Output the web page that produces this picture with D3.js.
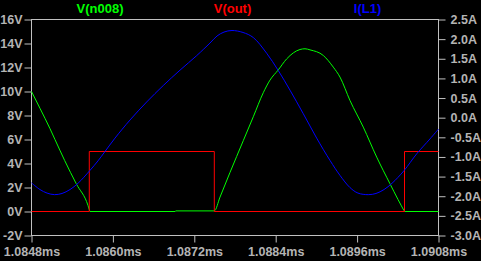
<!DOCTYPE html>
<html>
<head>
<meta charset="utf-8">
<script src="https://cdn.jsdelivr.net/npm/d3@7"></script>
<style>
  html, body { margin: 0; padding: 0; background: #000; }
  svg { display: block; }
</style>
</head>
<body>
<svg id="chart" width="481" height="261"></svg>
<script>
// ---------- data ----------
const seriesNames = ["V(n008)", "V(out)", "I(L1)"];

// V(n008) : time (ms), volts
const greenTime = [1.084800, 1.084925, 1.085073, 1.085146, 1.085289, 1.085460, 1.085633, 1.085655, 1.085662,
  1.086916, 1.086930, 1.087495, 1.087579, 1.087726, 1.087922, 1.088070, 1.088217, 1.088316, 1.088438,
  1.088562, 1.088758, 1.088832, 1.088906, 1.089102, 1.089249, 1.089348, 1.089495, 1.089691, 1.089889,
  1.090085, 1.090203, 1.090291, 1.090299, 1.090800];
const greenVolts = [10.0, 8.6, 6.9, 6.0, 4.25, 2.31, 0.5, 0.1, 0.0,
  0.0, 0.05, 0.05, 1.2, 3.25, 5.9, 7.9, 9.9, 10.95, 11.8,
  12.72, 13.5, 13.56, 13.47, 13.0, 12.03, 11.2, 9.25, 7.03, 4.53,
  2.31, 1.0, 0.08, 0.0, 0.0];

// V(out) : step waveform, time (ms), volts
const redTime = [1.084800, 1.085652, 1.087495, 1.090299, 1.090800];
const redVolts = [0, 5, 0, 5, 5];

// I(L1) : time (ms), amps
const blueTime = [1.084800, 1.084925, 1.085029, 1.085139, 1.085250, 1.085368, 1.085486, 1.085658,
  1.085780, 1.085884, 1.086031, 1.086252, 1.086498, 1.086743, 1.086989, 1.087235, 1.087431, 1.087535,
  1.087638, 1.087756, 1.087918, 1.088070, 1.088267, 1.088438, 1.088611, 1.088807, 1.089004, 1.089201,
  1.089348, 1.089495, 1.089613, 1.089765, 1.089879, 1.089997, 1.090115, 1.090291, 1.090479, 1.090675,
  1.090800];
const blueAmps = [-1.66, -1.83, -1.92, -1.96, -1.93, -1.83, -1.67, -1.35,
  -1.1, -0.86, -0.52, -0.06, 0.4, 0.82, 1.21, 1.58, 1.9, 2.08,
  2.18, 2.22, 2.17, 2.04, 1.64, 1.2, 0.7, 0.1, -0.52, -1.09,
  -1.47, -1.78, -1.92, -1.96, -1.93, -1.83, -1.67, -1.35, -0.92, -0.54,
  -0.29];

// tick labels
const timeTicks = [1.0848, 1.0860, 1.0872, 1.0884, 1.0896, 1.0908];
const timeTickLabels = ["1.0848ms", "1.0860ms", "1.0872ms", "1.0884ms", "1.0896ms", "1.0908ms"];
const voltTicks = [-2, 0, 2, 4, 6, 8, 10, 12, 14, 16];
const voltTickLabels = ["-2V", "0V", "2V", "4V", "6V", "8V", "10V", "12V", "14V", "16V"];
const ampTicks = [-3.0, -2.5, -2.0, -1.5, -1.0, -0.5, 0.0, 0.5, 1.0, 1.5, 2.0, 2.5];
const ampTickLabels = ["-3.0A", "-2.5A", "-2.0A", "-1.5A", "-1.0A", "-0.5A", "0.0A", "0.5A", "1.0A", "1.5A", "2.0A", "2.5A"];

// ---------- layout ----------
const L = 31.5, R = 438.5, T = 19.5, B = 235.5;
const axisColor = "#c0c0c0";
const textColor = "#b4b4b4";
const colors = ["#00ff00", "#ff0000", "#0000ff"];
const font = "'Liberation Sans', Arial, sans-serif";

const svg = d3.select("#chart");
svg.append("rect").attr("width", 481).attr("height", 261).attr("fill", "#000");

const x = d3.scaleLinear().domain([1.0848, 1.0908]).range([L, R]);
const yV = d3.scaleLinear().domain([-2, 16]).range([B, T]);
const yA = d3.scaleLinear().domain([-3, 2.5]).range([B, T]);

function styleAxis(g) {
  g.select(".domain").remove();
  g.selectAll(".tick line").attr("stroke", axisColor).attr("stroke-width", 1);
  g.selectAll(".tick text")
    .attr("fill", textColor)
    .style("font-family", font)
    .style("font-weight", "bold")
    .style("font-size", "12.5px");
}

// left axis
svg.append("g").attr("transform", `translate(${L},0)`)
  .call(d3.axisLeft(yV).tickValues(voltTicks).tickSize(7).tickPadding(2).tickSizeOuter(0)
    .tickFormat((d, i) => voltTickLabels[i]))
  .call(styleAxis);

// right axis
svg.append("g").attr("transform", `translate(${R},0)`)
  .call(d3.axisRight(yA).tickValues(ampTicks).tickSize(7).tickPadding(5).tickSizeOuter(0)
    .tickFormat((d, i) => ampTickLabels[i]))
  .call(styleAxis);

// bottom axis
svg.append("g").attr("transform", `translate(0,${B})`)
  .call(d3.axisBottom(x).tickValues(timeTicks).tickSize(7).tickSizeOuter(0)
    .tickFormat((d, i) => timeTickLabels[i]))
  .call(styleAxis)
  .call(g => g.selectAll(".tick text").attr("dy", null).attr("y", 20.5));

// frame
svg.append("rect").attr("x", L).attr("y", T).attr("width", R - L).attr("height", B - T)
  .attr("fill", "none").attr("stroke", axisColor).attr("stroke-width", 1);

// traces
const plot = svg.append("g");
const lineG = d3.line().x(d => x(d[0])).y(d => yV(d[1])).curve(d3.curveMonotoneX);
const lineR = d3.line().x(d => x(d[0])).y(d => yV(d[1])).curve(d3.curveStepAfter);
const lineB = d3.line().x(d => x(d[0])).y(d => yA(d[1])).curve(d3.curveCatmullRom.alpha(0.5));

plot.append("path").datum(greenTime.map((t, i) => [t, greenVolts[i]]))
  .attr("d", lineG).attr("fill", "none").attr("stroke", colors[0]).attr("stroke-width", 1);
plot.append("path").datum(redTime.map((t, i) => [t, redVolts[i]]))
  .attr("d", lineR).attr("fill", "none").attr("stroke", colors[1]).attr("stroke-width", 1);
plot.append("path").datum(blueTime.map((t, i) => [t, blueAmps[i]]))
  .attr("d", lineB).attr("fill", "none").attr("stroke", colors[2]).attr("stroke-width", 1);

// titles
const titleX = [100, 232.5, 367.5];
svg.selectAll("text.title").data(seriesNames).enter().append("text")
  .attr("class", "title")
  .attr("x", (d, i) => titleX[i]).attr("y", 13)
  .attr("text-anchor", "middle")
  .attr("fill", (d, i) => colors[i])
  .style("font-family", font).style("font-weight", "bold").style("font-size", "13px")
  .text(d => d);
</script>
</body>
</html>
